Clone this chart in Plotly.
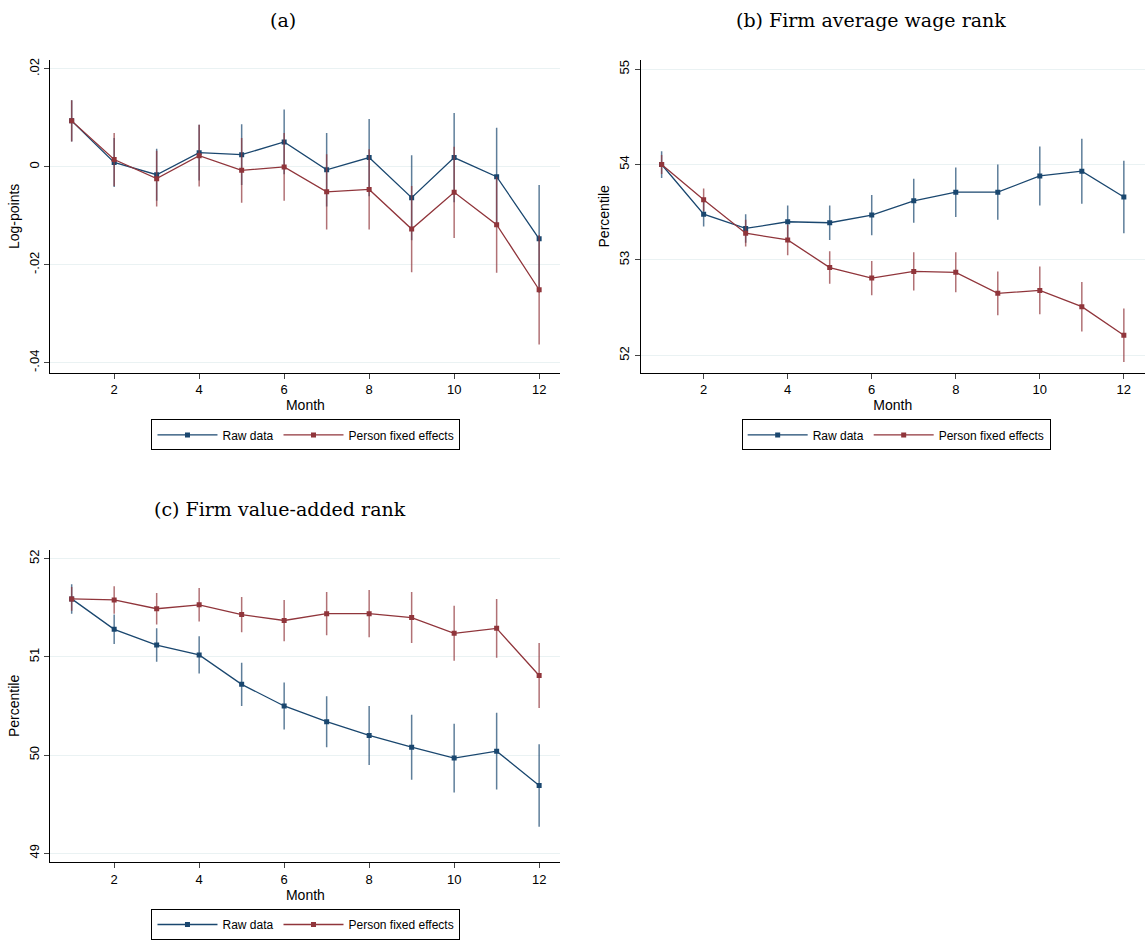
import plotly.graph_objects as go

months = list(range(1, 13))

# (a) log-points
a_raw = [.0094, .0009, -.0016, .0029, .0025, .0051, -.0006, .0019, -.0063, .0019, -.0020, -.0147]
a_raw_ci = [.0042, .0050, .0053, .0057, .0062, .0066, .0075, .0079, .0087, .0091, .0100, .0110]
a_fe = [.0094, .0015, -.0024, .0023, -.0007, .0000, -.0051, -.0046, -.0127, -.0052, -.0118, -.0251]
a_fe_ci = [.0042, .0054, .0057, .0063, .0066, .0069, .0077, .0082, .0088, .0093, .0098, .0112]

# (b) firm average wage rank
b_raw = [54.00, 53.48, 53.33, 53.40, 53.39, 53.47, 53.62, 53.71, 53.71, 53.88, 53.93, 53.66]
b_raw_ci = [.14, .13, .15, .17, .18, .21, .23, .26, .29, .31, .34, .38]
b_fe = [54.00, 53.63, 53.28, 53.21, 52.92, 52.81, 52.88, 52.87, 52.65, 52.68, 52.51, 52.21]
b_fe_ci = [.10, .12, .14, .16, .17, .18, .20, .21, .23, .25, .26, .28]

# (c) firm value-added rank
c_raw = [51.59, 51.28, 51.12, 51.02, 50.72, 50.50, 50.34, 50.20, 50.08, 49.97, 50.04, 49.69]
c_raw_ci = [.15, .15, .17, .19, .22, .24, .26, .30, .33, .35, .39, .42]
c_fe = [51.59, 51.58, 51.49, 51.53, 51.43, 51.37, 51.44, 51.44, 51.40, 51.24, 51.29, 50.81]
c_fe_ci = [.12, .14, .16, .17, .18, .21, .22, .24, .26, .28, .30, .33]

BLUE = "#1a476f"
RED = "#90353b"

fig = go.Figure()

panels = [
    ("", "", "legend", a_raw, a_raw_ci, a_fe, a_fe_ci),
    ("2", "2", "legend2", b_raw, b_raw_ci, b_fe, b_fe_ci),
    ("3", "3", "legend3", c_raw, c_raw_ci, c_fe, c_fe_ci),
]

for xs, ys, leg, raw, raw_ci, fe, fe_ci in panels:
    for name, vals, ci, col, ecol in [
        ("Raw data", raw, raw_ci, BLUE, "rgba(26,71,111,0.7)"),
        ("Person fixed effects", fe, fe_ci, RED, "rgba(144,53,59,0.7)"),
    ]:
        fig.add_trace(go.Scatter(
            x=months, y=vals, name=name, mode="lines+markers",
            xaxis="x" + xs, yaxis="y" + ys, legend=leg,
            line=dict(color=col, width=1.3),
            marker=dict(symbol="square", size=5, color=col),
            error_y=dict(type="data", array=ci, color=ecol, thickness=1.5, width=0),
        ))

font = dict(family="Liberation Sans, Arial, sans-serif", size=13, color="black")
title_small = dict(family="Liberation Sans, Arial, sans-serif", size=14, color="black")

def xax(dom, anchor):
    return dict(domain=dom, anchor=anchor, range=[0.5, 12.5], tickvals=[2, 4, 6, 8, 10, 12],
                showline=True, linecolor="black", linewidth=1, ticks="outside", ticklen=5,
                showgrid=False, zeroline=False,
                title=dict(text="Month", standoff=0, font=title_small), tickfont=font)

def yax(dom, anchor, rng, tv, tt, title):
    return dict(domain=dom, anchor=anchor, range=rng, tickvals=tv, ticktext=tt, tickangle=-90,
                showline=True, linecolor="black", linewidth=1, ticks="outside", ticklen=5,
                showgrid=True, gridcolor="#eaf2f3", zeroline=False,
                title=dict(text=title, standoff=4, font=title_small), tickfont=font)

legend_style = dict(orientation="h", bordercolor="black", borderwidth=1, xanchor="center",
                    yanchor="top", font=dict(family="Liberation Sans, Arial, sans-serif", size=12),
                    bgcolor="white", itemwidth=60)

fig.update_layout(
    width=1146, height=940, paper_bgcolor="white", plot_bgcolor="white",
    margin=dict(l=0, r=0, t=0, b=0), font=font,
    xaxis=xax([0.044, 0.489], "y"),
    yaxis=yax([0.605, 0.938], "x", [-0.042, 0.0218], [-0.04, -0.02, 0, 0.02],
              ["-.04", "-.02", "0", ".02"], "Log-points"),
    xaxis2=xax([0.559, 0.999], "y2"),
    yaxis2=yax([0.605, 0.938], "x2", [51.82, 55.094], [52, 53, 54, 55],
               ["52", "53", "54", "55"], "Percentile"),
    xaxis3=xax([0.044, 0.489], "y3"),
    yaxis3=yax([0.083, 0.416], "x3", [48.91, 52.09], [49, 50, 51, 52],
               ["49", "50", "51", "52"], "Percentile"),
    legend=dict(legend_style, x=0.267, y=0.555),
    legend2=dict(legend_style, x=0.782, y=0.555),
    legend3=dict(legend_style, x=0.267, y=0.033),
)

title_font = dict(family="DejaVu Serif, Liberation Serif, serif", size=19, color="black")
for text, x, y in [("(a)", 0.247, 0.981), ("(b) Firm average wage rank", 0.76, 0.981),
                   ("(c) Firm value-added rank", 0.244, 0.459)]:
    fig.add_annotation(text=text, x=x, y=y, xref="paper", yref="paper", xanchor="center",
                       yanchor="middle", showarrow=False, font=title_font)

fig.write_html("out.html", config={"displayModeBar": False},
               post_script="document.body.style.margin='0';")
